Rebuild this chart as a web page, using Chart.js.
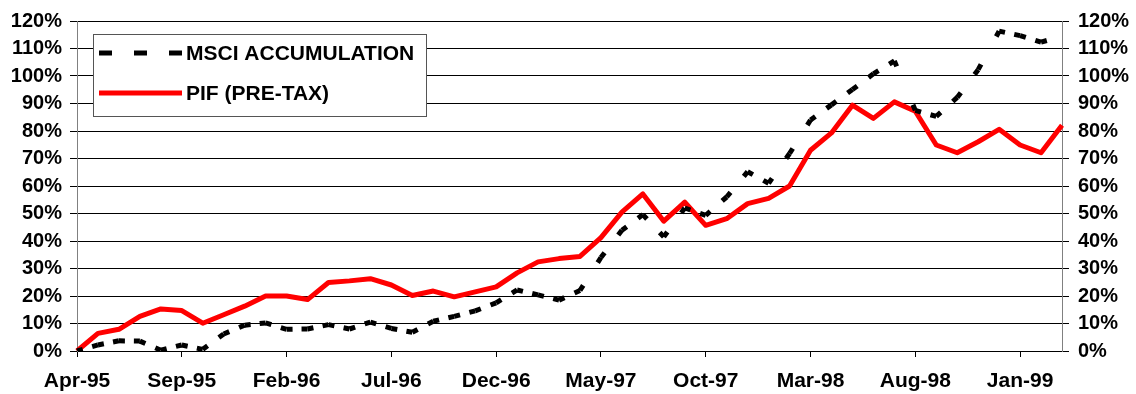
<!DOCTYPE html>
<html>
<head>
<meta charset="utf-8">
<script src="https://cdn.jsdelivr.net/npm/chart.js@4"></script>
<style>
  html, body { margin: 0; padding: 0; background: #fff; }
  #wrap { width: 1136px; height: 394px; position: relative; }
</style>
</head>
<body>
<div id="wrap"><canvas id="chart"></canvas></div>
<script>
const months = [
  'Apr-95', 'May-95', 'Jun-95', 'Jul-95', 'Aug-95', 'Sep-95', 'Oct-95', 'Nov-95', 'Dec-95',
  'Jan-96', 'Feb-96', 'Mar-96', 'Apr-96', 'May-96', 'Jun-96', 'Jul-96', 'Aug-96', 'Sep-96', 'Oct-96', 'Nov-96', 'Dec-96',
  'Jan-97', 'Feb-97', 'Mar-97', 'Apr-97', 'May-97', 'Jun-97', 'Jul-97', 'Aug-97', 'Sep-97', 'Oct-97', 'Nov-97', 'Dec-97',
  'Jan-98', 'Feb-98', 'Mar-98', 'Apr-98', 'May-98', 'Jun-98', 'Jul-98', 'Aug-98', 'Sep-98', 'Oct-98', 'Nov-98', 'Dec-98',
  'Jan-99', 'Feb-99', 'Mar-99'
];
const xTickLabels = ['Apr-95', 'Sep-95', 'Feb-96', 'Jul-96', 'Dec-96', 'May-97', 'Oct-97', 'Mar-98', 'Aug-98', 'Jan-99'];

// cumulative return, %
const msci = [
  0, 2.2, 3.7, 3.6, 0.3, 2.2, 0.6, 6.2, 9.4, 10.2, 7.9, 8.0,
  9.6, 8.0, 10.5, 8.2, 6.8, 10.8, 12.6, 14.6, 17.5, 22.2, 20.4, 18.5,
  22.0, 34.0, 43.9, 49.6, 41.5, 52.0, 49.3, 56.0, 65.2, 61.0, 71.8, 84.0,
  89.5, 95.1, 100.8, 105.5, 87.5, 85.3, 92.2, 102.3, 116.3, 114.7, 112.3, 114.5
];
const pif = [
  0, 6.4, 7.9, 12.6, 15.3, 14.7, 10.1, 13.2, 16.3, 20.0, 20.0, 18.7,
  24.9, 25.5, 26.3, 24.0, 20.2, 21.8, 19.7, 21.5, 23.3, 28.4, 32.4, 33.6,
  34.4, 41.2, 50.5, 57.1, 47.2, 54.1, 45.7, 48.1, 53.6, 55.5, 60.0, 73.0,
  79.3, 89.4, 84.6, 90.6, 87.2, 74.9, 72.1, 76.1, 80.6, 74.9, 72.1, 82.1
];

const FONT = "'Liberation Sans', Arial, sans-serif";

// Excel long dash: the pattern restarts on every segment, half a dash at each end
function segmentDash(ctx) {
  const len = Math.hypot(ctx.p1.x - ctx.p0.x, ctx.p1.y - ctx.p0.y);
  if (ctx.p1DataIndex === msci.length - 1) return [6, len + 20];
  return [6, Math.max(len - 12, 0.5)];
}

const boxLegend = {
  id: 'boxLegend',
  afterDraw(chart) {
    const c = chart.ctx;
    const left = 93, top = 34, w = 333, h = 82;
    c.save();
    c.fillStyle = '#fff';
    c.fillRect(left, top, w, h);
    c.strokeStyle = '#555';
    c.lineWidth = 1;
    c.strokeRect(left + 0.5, top + 0.5, w, h);
    chart.data.datasets.forEach((d, i) => {
      const y = top + 19 + i * 40;
      c.beginPath();
      c.setLineDash(d.legendDash || []);
      c.lineWidth = 5;
      c.lineCap = 'butt';
      c.strokeStyle = d.borderColor;
      c.moveTo(left + 6, y);
      c.lineTo(left + 89, y);
      c.stroke();
      c.setLineDash([]);
      c.fillStyle = '#000';
      c.font = 'bold 21px ' + FONT;
      c.textBaseline = 'middle';
      c.fillText(d.label, left + 93, y + 1);
    });
    c.restore();
  }
};

new Chart(document.getElementById('chart'), {
  type: 'line',
  data: {
    labels: months,
    datasets: [{
      label: 'MSCI ACCUMULATION',
      data: msci,
      borderColor: '#000',
      borderWidth: 5,
      borderCapStyle: 'butt',
      legendDash: [13, 22],
      pointRadius: 0,
      tension: 0,
      segment: {
        borderDash: segmentDash,
        borderDashOffset: ctx => (ctx.p0DataIndex % 2 ? 0.01 : 0)
      }
    }, {
      label: 'PIF (PRE-TAX)',
      data: pif,
      borderColor: '#ff0000',
      borderWidth: 5,
      borderJoinStyle: 'round',
      pointRadius: 0,
      tension: 0
    }]
  },
  options: {
    responsive: true,
    maintainAspectRatio: false,
    animation: false,
    layout: { padding: { top: 20, left: 0, right: 0, bottom: 0 } },
    plugins: {
      legend: { display: false },
      tooltip: { enabled: false }
    },
    scales: {
      x: {
        type: 'category',
        offset: false,
        afterFit: s => { s.height = 43; },
        grid: {
          drawOnChartArea: false,
          drawTicks: true,
          tickLength: 6,
          tickColor: ctx => (xTickLabels.includes(months[ctx.index]) ? '#000' : 'rgba(0,0,0,0)')
        },
        border: { color: '#000', width: 1 },
        ticks: {
          autoSkip: false,
          maxRotation: 0,
          padding: 12,
          color: '#000',
          font: { family: FONT, size: 21, weight: 'bold' },
          callback: (v, i) => (xTickLabels.includes(months[i]) ? months[i] : '')
        }
      },
      y: {
        position: 'left',
        min: 0,
        max: 120,
        afterFit: s => { s.width = 77; },
        grid: { color: '#000', lineWidth: 1, tickLength: 7, tickColor: '#000' },
        border: { color: '#808080', width: 1 },
        ticks: {
          stepSize: 10,
          padding: 8,
          color: '#000',
          font: { family: FONT, size: 20, weight: 'bold' },
          callback: v => v + '%'
        }
      },
      y2: {
        position: 'right',
        min: 0,
        max: 120,
        afterFit: s => { s.width = 74; },
        grid: { drawOnChartArea: false, tickLength: 7, tickColor: '#000' },
        border: { color: '#808080', width: 1 },
        ticks: {
          stepSize: 10,
          padding: 9,
          color: '#000',
          font: { family: FONT, size: 20, weight: 'bold' },
          callback: v => v + '%'
        }
      }
    }
  },
  plugins: [boxLegend]
});
</script>
</body>
</html>
